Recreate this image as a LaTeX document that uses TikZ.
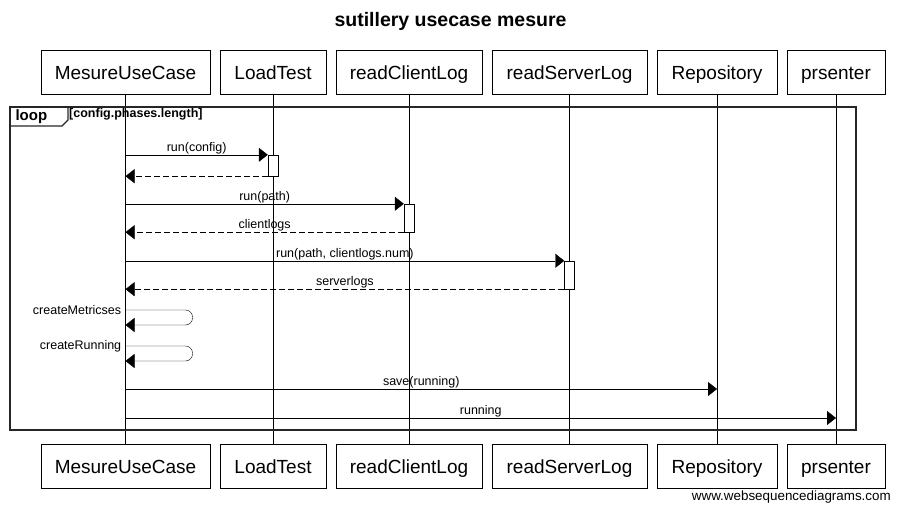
\documentclass[tikz,border=0pt]{standalone}
\usepackage{fontspec}
\setmainfont{Liberation Sans}
\usetikzlibrary{positioning,arrows.meta}

\begin{document}
\begin{tikzpicture}[x=1pt, y=-1pt,
    node distance=10pt,
    actor/.style={draw, fill=white, minimum height=44pt, inner sep=0pt, outer sep=0pt, text height=15pt, text depth=0pt, font=\fontsize{19}{22}\selectfont},
    act/.style={draw, fill=white, minimum width=10pt, inner sep=0pt},
    msg/.style={-{Triangle[length=9pt,width=14pt]}},
    ret/.style={msg, dash pattern=on 6pt off 3pt},
    lbl/.style={font=\fontsize{12.5}{14}\selectfont, inner sep=0.6pt}
]
\useasboundingbox (0,0) rectangle (901,513);
\node[font=\bfseries\fontsize{19.5}{22}\selectfont] (title) at (450.5,21) {sutillery usecase mesure};

\node[actor, minimum width=169pt] (mucT) at (125.5,72) {MesureUseCase};
\node[actor, minimum width=106pt, right=of mucT] (ltT) {LoadTest};
\node[actor, minimum width=146pt, right=of ltT] (rclT) {readClientLog};
\node[actor, minimum width=155pt, right=of rclT] (rslT) {readServerLog};
\node[actor, minimum width=120pt, right=of rslT] (repoT) {Repository};
\node[actor, minimum width=98pt, right=of repoT] (prsT) {prsenter};

\node[actor, minimum width=169pt, below=350pt of mucT] (mucB) {MesureUseCase};
\node[actor, minimum width=106pt, below=350pt of ltT] (ltB) {LoadTest};
\node[actor, minimum width=146pt, below=350pt of rclT] (rclB) {readClientLog};
\node[actor, minimum width=155pt, below=350pt of rslT] (rslB) {readServerLog};
\node[actor, minimum width=120pt, below=350pt of repoT] (repoB) {Repository};
\node[actor, minimum width=98pt, below=350pt of prsT] (prsB) {prsenter};

\foreach \p in {muc,lt,rcl,rsl,repo,prs}
    \draw (\p T.south) -- (\p B.north);

\coordinate (fnw) at (10,107);
\coordinate (fse) at (856,430);
\draw[line width=1.6pt, black!85] (fnw) rectangle (fse);
\draw[line width=1.2pt, black!85] (fnw) -- ++(58,0) -- ++(0,13) -- ++(-6,6) -- (fnw |- 0,126);
\node[font=\bfseries\fontsize{15}{17}\selectfont, anchor=west] (loop) at (12,117) {loop};
\node[font=\bfseries\fontsize{12.5}{14}\selectfont, anchor=west, inner sep=0pt] (guard) at (69,114.5) {[config.phases.length]};

\node[act, minimum height=21pt] (ltA) at (ltT |- 0,165.5) {};
\node[act, minimum height=28pt] (rclA) at (rclT |- 0,218) {};
\node[act, minimum height=28pt] (rslA) at (rslT |- 0,275) {};

\draw[msg] (ltA.north west -| mucT) -- (ltA.north west) node[lbl, midway, above] {run(config)};
\draw[ret] (ltA.south west) -- (ltA.south west -| mucT);
\draw[msg] (rclA.north west -| mucT) -- (rclA.north west) node[lbl, midway, above] {run(path)};
\draw[ret] (rclA.south west) -- (rclA.south west -| mucT) node[lbl, midway, above] {clientlogs};
\draw[msg] (rslA.north west -| mucT) -- (rslA.north west) node[lbl, midway, above] {run(path, clientlogs.num)};
\draw[ret] (rslA.south west) -- (rslA.south west -| mucT) node[lbl, midway, above] {serverlogs};

\coordinate (cm) at (mucT |- 0,310);
\coordinate (cr) at (mucT |- 0,346);
\draw[msg, rounded corners=7pt] (cm) -- ++(67,0) -- ++(0,15) -- ++(-67,0);
\node[lbl, left=3.5pt of cm] (cmL) {createMetricses};
\draw[msg, rounded corners=7pt] (cr) -- ++(67,0) -- ++(0,15) -- ++(-67,0);
\node[lbl, left=3.5pt of cr] (crL) {createRunning};

\coordinate (sv) at (repoT |- 0,389);
\coordinate (rn) at (prsT |- 0,418);
\draw[msg] (sv -| mucT) -- (sv) node[lbl, midway, above] {save(running)};
\draw[msg] (rn -| mucT) -- (rn) node[lbl, midway, above] {running};

\node[font=\fontsize{13.4}{15}\selectfont, anchor=east, inner sep=0pt] (wsd) at (891,497) {www.websequencediagrams.com};
\end{tikzpicture}
\end{document}
